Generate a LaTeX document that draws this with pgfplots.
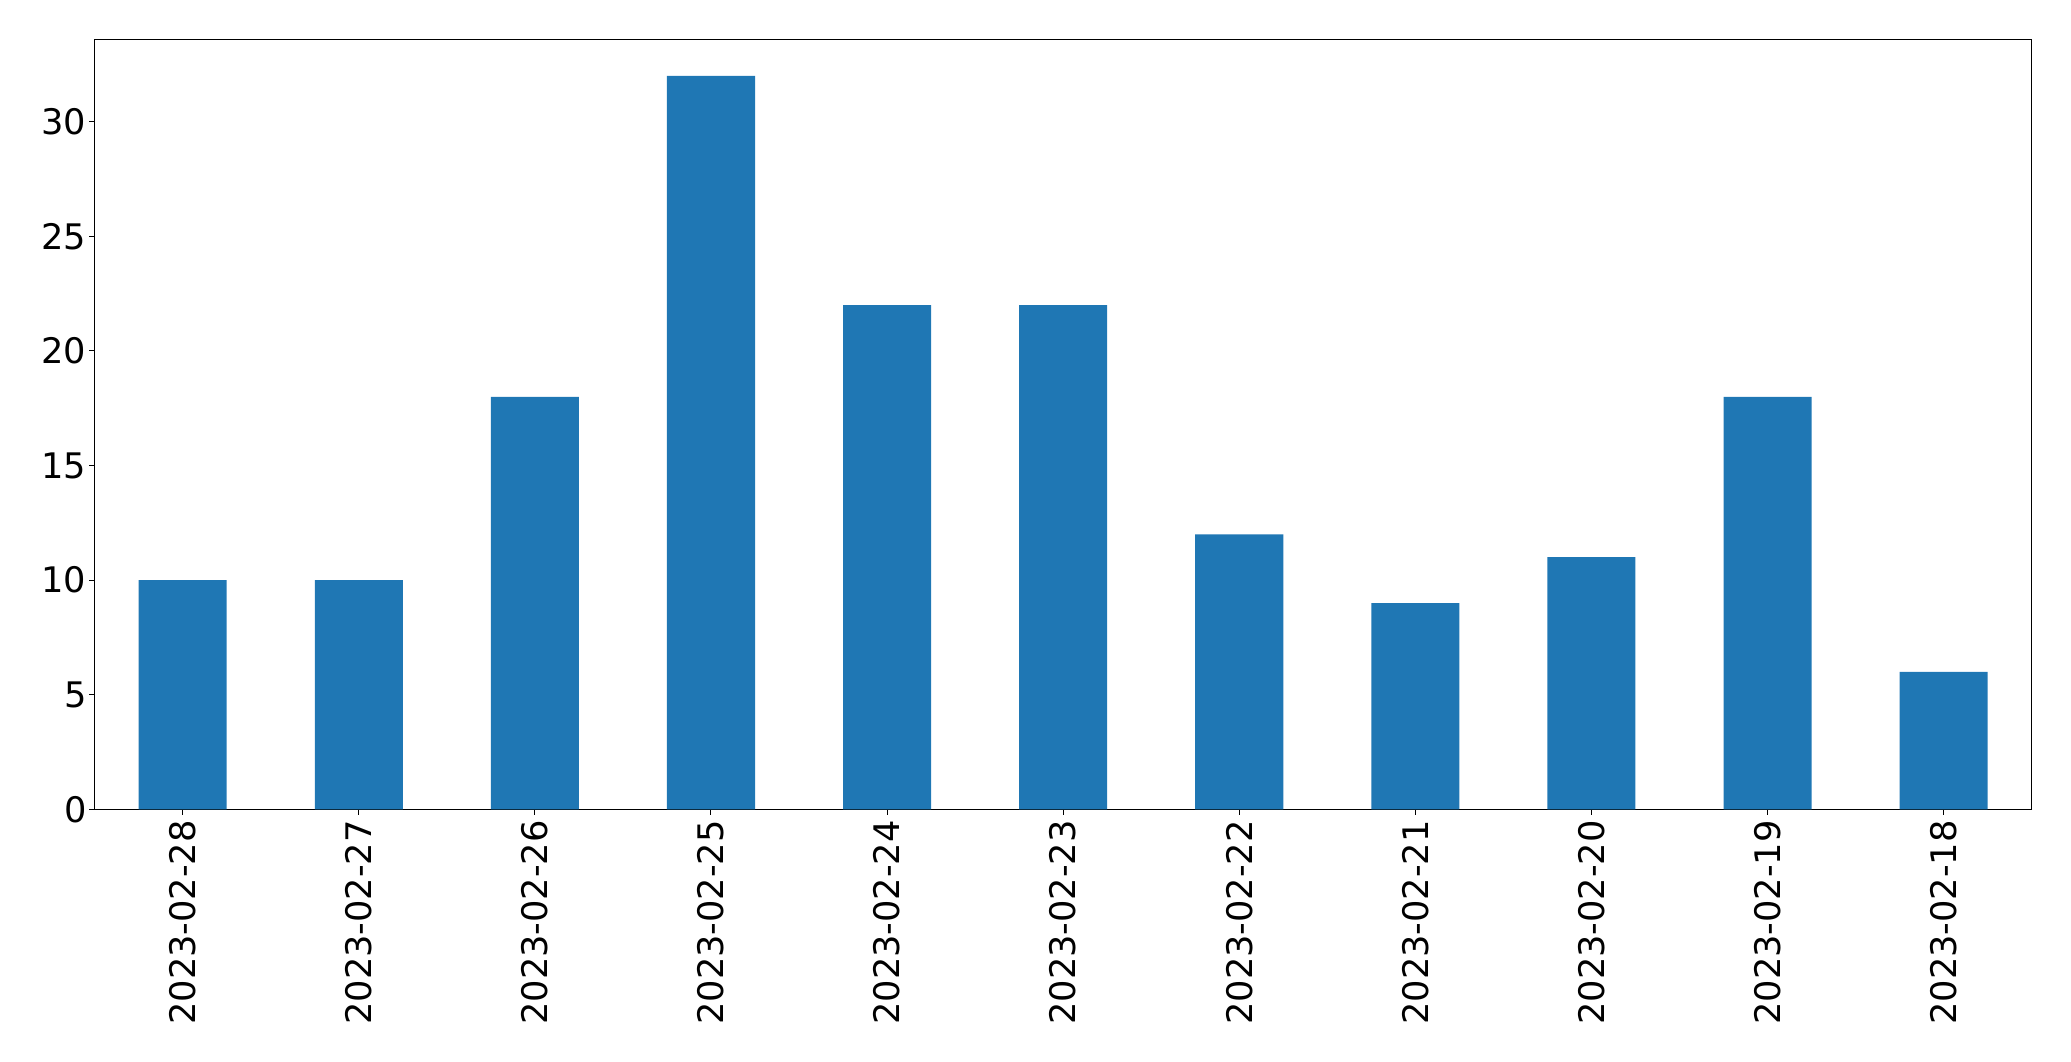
\documentclass[border=0pt]{standalone}
\usepackage{fontspec}
\setmainfont{DejaVu Sans}
\usepackage{pgfplots}
\pgfplotsset{compat=1.18}
\definecolor{mplblue}{HTML}{1F77B4}
\begin{document}
\begin{tikzpicture}
\path[use as bounding box] (0,0) rectangle (1553.25pt,795.75pt);
\begin{axis}[
  at={(71.0pt,188.8pt)}, anchor=south west,
  scale only axis,
  width=1452.75pt, height=577.5pt,
  xmin=-0.5, xmax=10.5, ymin=0, ymax=33.6,
  xtick=data,
  xticklabels={2023-02-28,2023-02-27,2023-02-26,2023-02-25,2023-02-24,2023-02-23,2023-02-22,2023-02-21,2023-02-20,2023-02-19,2023-02-18},
  ytick={0,5,10,15,20,25,30},
  tick align=outside, xtick pos=left, ytick pos=left,
  major tick length=4pt,
  every tick/.style={black, line width=0.75pt},
  axis line style={black, line width=0.75pt},
  /pgf/number format/assume math mode=true,
  tick label style={font=\fontsize{26.4}{31.7}\selectfont},
  xticklabel style={yshift=-4pt, rotate=90, anchor=east, inner sep=0pt},
  yticklabel style={anchor=east, inner sep=0pt, xshift=-2pt},
]
\addplot[ybar, bar width=0.5, fill=mplblue, draw=none] coordinates {
(0,10) (1,10) (2,18) (3,32) (4,22) (5,22) (6,12) (7,9) (8,11) (9,18) (10,6)
};
\end{axis}
\end{tikzpicture}
\end{document}
